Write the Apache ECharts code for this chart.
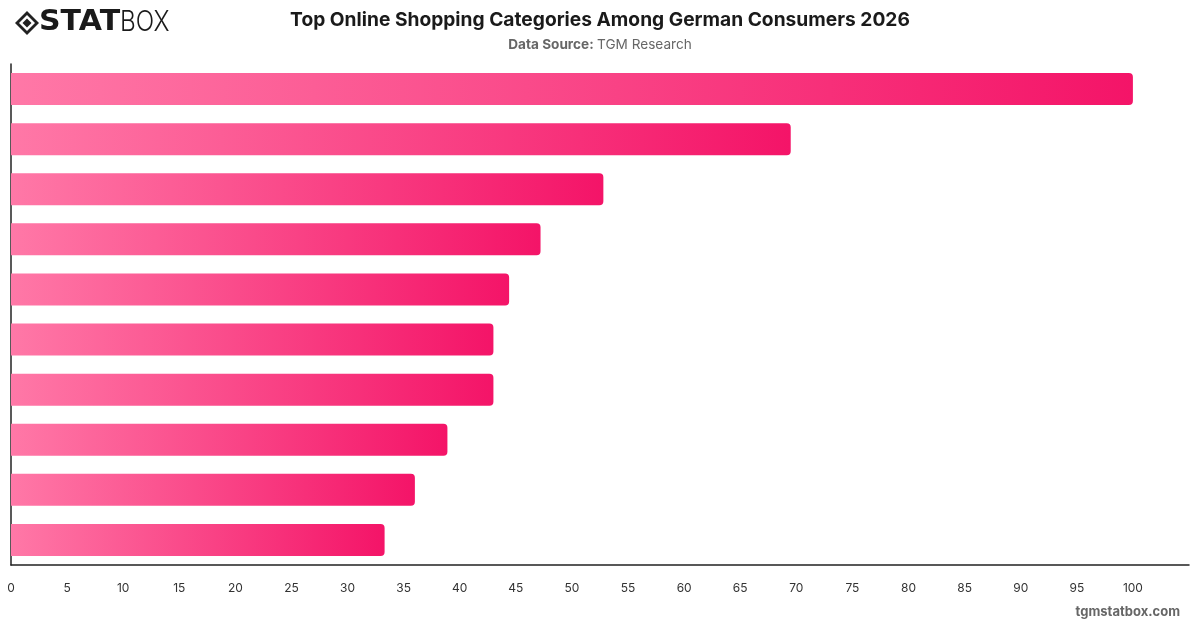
<!DOCTYPE html>
<html>
<head>
<meta charset="utf-8">
<script src="https://cdn.jsdelivr.net/npm/echarts@6/dist/echarts.min.js"></script>
<style>
  html, body { margin: 0; padding: 0; background: #fff; }
  #chart { width: 1200px; height: 628px; }
</style>
</head>
<body>
<div id="chart"></div>
<script>
// categories are not labelled in the source picture, top bar first
const categories = [
  'Category 1', 'Category 2', 'Category 3', 'Category 4', 'Category 5',
  'Category 6', 'Category 7', 'Category 8', 'Category 9', 'Category 10'
];
const values = [100, 69.5, 52.8, 47.2, 44.4, 43.0, 43.0, 38.9, 36.0, 33.3];
const xTicks = { min: 0, max: 105, interval: 5 };

const chart = echarts.init(document.getElementById('chart'));

const barGradient = new echarts.graphic.LinearGradient(0, 0, 1, 0, [
  { offset: 0, color: '#FF78A7' },
  { offset: 1, color: '#F41468' }
]);

const option = {
  backgroundColor: '#fff',
  textStyle: { fontFamily: 'Inter, "Noto Sans", sans-serif' },
  title: {
    text: 'Top Online Shopping Categories Among German Consumers 2026',
    left: 'center',
    top: 6,
    textStyle: { fontSize: 19.2, fontWeight: 'bold', color: '#1a1a1a', fontFamily: 'Inter' },
    subtext: '{b|Data Source:} {n|TGM Research}',
    itemGap: 8,
    subtextStyle: {
      rich: {
        b: { fontSize: 13.6, fontWeight: 'bold', color: '#666', fontFamily: 'Inter' },
        n: { fontSize: 13.6, color: '#666', fontFamily: 'Inter' }
      }
    }
  },
  grid: { left: 11, right: 11, top: 64, bottom: 63 },
  xAxis: {
    type: 'value',
    min: xTicks.min,
    max: xTicks.max,
    interval: xTicks.interval,
    axisLine: { show: true, lineStyle: { color: '#222', width: 1.5 } },
    axisTick: { show: false },
    splitLine: { show: false },
    axisLabel: {
      color: '#333', fontSize: 12, margin: 17, showMaxLabel: false,
      fontFamily: 'Inter'
    }
  },
  yAxis: {
    type: 'category',
    data: categories,
    inverse: true,
    axisLine: { show: true, lineStyle: { color: '#222', width: 1.5 } },
    axisTick: { show: false },
    axisLabel: { show: false }
  },
  series: [{
    type: 'bar',
    data: values,
    barWidth: 32,
    itemStyle: { color: barGradient, borderRadius: [0, 4, 4, 0] }
  }],
  graphic: [
    // logo: diamond mark + wordmark
    {
      type: 'group', left: 15, top: 9,
      children: [
        { type: 'polygon', shape: { points: [[12, 0], [24, 12], [12, 24], [0, 12]] },
          style: { fill: '#222' } },
        { type: 'polygon', shape: { points: [[12, 4], [20, 12], [12, 20], [4, 12]] },
          style: { fill: '#fff' } },
        { type: 'polygon', shape: { points: [[12, 7.5], [16.5, 12], [12, 16.5], [7.5, 12]] },
          style: { fill: '#222' } },
        { type: 'text', x: 24, y: -2, scaleX: 1.2, scaleY: 1.12,
          style: { text: 'STAT', font: 'bold 25px "DejaVu Sans", Inter, sans-serif', fill: '#1a1a1a' } },
        { type: 'text', x: 105, y: -2, scaleX: 0.97, scaleY: 1.12,
          style: { text: 'BOX', font: '300 25px Inter, sans-serif', fill: '#1a1a1a' } }
      ]
    },
    {
      type: 'text', right: 20, top: 606,
      style: { text: 'tgmstatbox.com', font: 'bold 13px Inter, sans-serif', fill: '#666' }
    }
  ]
};

chart.setOption(option);
</script>
</body>
</html>
